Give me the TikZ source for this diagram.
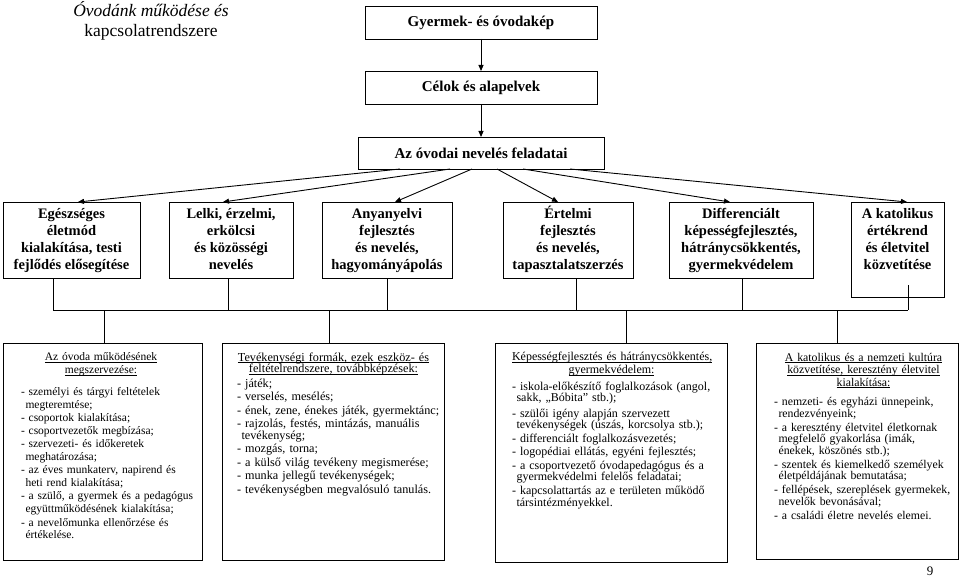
\documentclass[tikz,border=0pt]{standalone}
\usepackage{fontspec}
\setmainfont{Liberation Serif}
\usetikzlibrary{arrows.meta}
\newcommand\myul[1]{\setbox0\hbox{#1}\rlap{\rule[-1.7pt]{\wd0}{0.55pt}}\box0}
\newcommand\lnJ[1]{\noindent\hbox to\linewidth{#1}}
\newcommand\lnJc[1]{\noindent\hbox to\linewidth{\hskip4.5pt #1}}
\newcommand\lnR[1]{\noindent\hbox{#1}}
\newcommand\lnRc[1]{\noindent\hbox{\hskip4.5pt #1}}
\newcommand\lnH[2][0pt]{\noindent\hbox to\linewidth{\hfil\myul{#2}\hfil\hskip#1}}
\newcommand\tstr{\rule{0pt}{13.5pt}}
\newcommand\bstr{\rule[-5pt]{0pt}{5pt}}
\begin{document}
\begin{tikzpicture}[x=1pt,y=-1pt,
  every node/.style={inner sep=0pt,outer sep=0pt},
  box/.style={draw,line width=0.8pt},
  topbox/.style={box,font=\fontsize{15}{18}\selectfont\bfseries},
  taskbox/.style={box,align=center,font=\fontsize{14.5}{17}\selectfont\bfseries,minimum height=76pt},
  tasktext/.style={align=center,font=\fontsize{14.5}{17}\selectfont\bfseries},
  listbox/.style={box},
  listtext/.style={anchor=north west,align=left},
  arr/.style={-{Triangle[length=6pt,width=5pt]},line width=0.9pt},
  conn/.style={line width=0.8pt}]
\useasboundingbox (0,0) rectangle (960,580);

% title
\node[font=\fontsize{17.5}{20}\selectfont,align=center] (title) at (151,21)
  {\textit{Óvodánk működése és}\\kapcsolatrendszere};

% top chain
\node[topbox,minimum width=232pt,minimum height=33pt] (g) at (481,22.5) {Gyermek- és óvodakép};
\node[topbox,minimum width=232pt,minimum height=33pt] (c) at (481,87.5) {Célok és alapelvek};
\node[topbox,minimum width=246pt,minimum height=32pt] (f) at (481,153) {Az óvodai nevelés feladatai};
\draw[arr] (g) -- (c);
\draw[arr] (c) -- (f);

% task boxes
\node[taskbox,minimum width=137pt] (b1) at (71.5,240) {\tstr Egészséges\\életmód\\kialakítása, testi\\fejlődés elősegítése\bstr};
\node[taskbox,minimum width=124pt] (b2) at (231,240) {\tstr Lelki, érzelmi,\\erkölcsi\\és közösségi\\nevelés\bstr};
\node[taskbox,minimum width=130pt] (b3) at (387,240) {\tstr Anyanyelvi\\fejlesztés\\és nevelés,\\hagyományápolás\bstr};
\node[taskbox,minimum width=130pt] (b4) at (568,240) {\tstr Értelmi\\fejlesztés\\és nevelés,\\tapasztalatszerzés\bstr};
\node[taskbox,minimum width=144pt] (b5) at (741,240) {\tstr Differenciált\\képességfejlesztés,\\hátránycsökkentés,\\gyermekvédelem\bstr};
\node[box,minimum width=93pt,minimum height=95pt] (b6) at (897.5,249.5) {};
\node[tasktext] (b6t) at (897.5,240) {\tstr A katolikus\\értékrend\\és életvitel\\közvetítése\bstr};

\draw[arr] ([xshift=-81pt]f.south) -- ([xshift=6.5pt]b1.north);
\draw[arr] ([xshift=-31pt]f.south) -- ([xshift=-8pt]b2.north);
\draw[arr] ([xshift=-9pt]f.south) -- ([xshift=8pt]b3.north);
\draw[arr] ([xshift=16pt]f.south) -- ([xshift=-10pt]b4.north);
\draw[arr] ([xshift=42pt]f.south) -- ([xshift=-11pt]b5.north);
\draw[arr] ([xshift=89pt]f.south) -- ([xshift=9.5pt]b6.north);

% bus
\coordinate (busL) at (53,310);
\coordinate (busR) at (908,310);
\coordinate (u1) at ([xshift=-18.5pt]b1.south);
\coordinate (u2) at ([xshift=-3pt]b2.south);
\coordinate (u3) at (b3.south);
\coordinate (u4) at ([xshift=8pt]b4.south);
\coordinate (u5) at ([xshift=1pt]b5.south);
\coordinate (u6) at ([xshift=10.5pt,yshift=12pt]b6.south);
\foreach \u in {u1,u2,u3,u4,u5,u6} \draw[conn] (\u) -- (\u |- busL);
\draw[conn] (busL) -- (busR);

% list boxes
\node[listbox,minimum width=199pt,minimum height=217pt] (A) at (102.5,451.5) {};
\node[listbox,minimum width=222pt,minimum height=217pt] (B) at (333,451.5) {};
\node[listbox,minimum width=232pt,minimum height=219pt] (C) at (611,452.5) {};
\node[listbox,minimum width=202pt,minimum height=216pt] (D) at (857,451) {};

\coordinate (dA) at ([xshift=1.5pt]A.north);
\coordinate (dB) at ([xshift=-4pt]B.north);
\coordinate (dC) at ([xshift=15pt]C.north);
\coordinate (dD) at ([xshift=-20pt]D.north);
\foreach \d in {dA,dB,dC,dD} \draw[conn] (\d |- busL) -- (\d);

\node[listtext,text width=172pt,font=\fontsize{11.5}{13}\selectfont] (At) at (21,353) {%
\lnH[12pt]{Az óvoda működésének}\\
\lnH[12pt]{megszervezése:}\\[9pt]
\lnJ{- személyi és tárgyi feltételek}\\
\lnRc{megteremtése;}\\
\lnR{- csoportok kialakítása;}\\
\lnR{- csoportvezetők megbízása;}\\
\lnJ{- szervezeti- és időkeretek}\\
\lnRc{meghatározása;}\\
\lnJ{- az éves munkaterv, napirend és}\\
\lnRc{heti rend kialakítása;}\\
\lnJ{- a szülő, a gyermek és a pedagógus}\\
\lnRc{együttműködésének kialakítása;}\\
\lnJ{- a nevelőmunka ellenőrzése és}\\
\lnRc{értékelése.}};

\node[listtext,text width=202pt,font=\fontsize{12.2}{11.5}\selectfont] (Bt) at (237,352.5) {%
\lnH[9pt]{Tevékenységi formák, ezek eszköz- és}\\
\lnH[9pt]{feltételrendszere, továbbképzések:}\\[3pt]
\lnR{- játék;}\\[2pt]
\lnR{- verselés, mesélés;}\\[2pt]
\lnR{- ének, zene, énekes játék, gyermektánc;}\\[2pt]
\lnJ{- rajzolás, festés, mintázás, manuális}\\
\lnRc{tevékenység;}\\[2pt]
\lnR{- mozgás, torna;}\\[2pt]
\lnR{- a külső világ tevékeny megismerése;}\\[2pt]
\lnR{- munka jellegű tevékenységek;}\\[2pt]
\lnR{- tevékenységben megvalósuló tanulás.}};

\node[listtext,text width=208pt,font=\fontsize{12}{11.5}\selectfont] (Ct) at (512,352.5) {%
\lnH[9pt]{Képességfejlesztés és hátránycsökkentés,}\\[1pt]
\lnH[9pt]{gyermekvédelem:}\\[5.5pt]
\lnJ{- iskola-előkészítő foglalkozások (angol,}\\
\lnRc{sakk, „Bóbita” stb.);}\\[4pt]
\lnJ{- szülői igény alapján szervezett}\\
\lnRc{tevékenységek (úszás, korcsolya stb.);}\\[2pt]
\lnR{- differenciált foglalkozásvezetés;}\\[2pt]
\lnR{- logopédiai ellátás, egyéni fejlesztés;}\\[2pt]
\lnJ{- a csoportvezető óvodapedagógus és a}\\
\lnRc{gyermekvédelmi felelős feladatai;}\\[2.5pt]
\lnJ{- kapcsolattartás az e területen működő}\\
\lnRc{társintézményekkel.}};

\node[listtext,text width=179pt,font=\fontsize{11.8}{11.5}\selectfont] (Dt) at (774,353) {%
\lnH{A katolikus és a nemzeti kultúra}\\[1pt]
\lnH{közvetítése, keresztény életvitel}\\[1pt]
\lnH{kialakítása:}\\[8pt]
\lnJ{- nemzeti- és egyházi ünnepeink,}\\
\lnRc{rendezvényeink;}\\[2.5pt]
\lnJ{- a keresztény életvitel életkornak}\\
\lnJc{megfelelő gyakorlása (imák,}\\
\lnRc{énekek, köszönés stb.);}\\[2.5pt]
\lnJ{- szentek és kiemelkedő személyek}\\
\lnRc{életpéldájának bemutatása;}\\[2.5pt]
\lnJ{- fellépések, szereplések gyermekek,}\\
\lnRc{nevelők bevonásával;}\\[2.5pt]
\lnR{- a családi életre nevelés elemei.}};

\node[font=\fontsize{13}{15}\selectfont] (pg) at (930,571) {9};
\end{tikzpicture}
\end{document}
